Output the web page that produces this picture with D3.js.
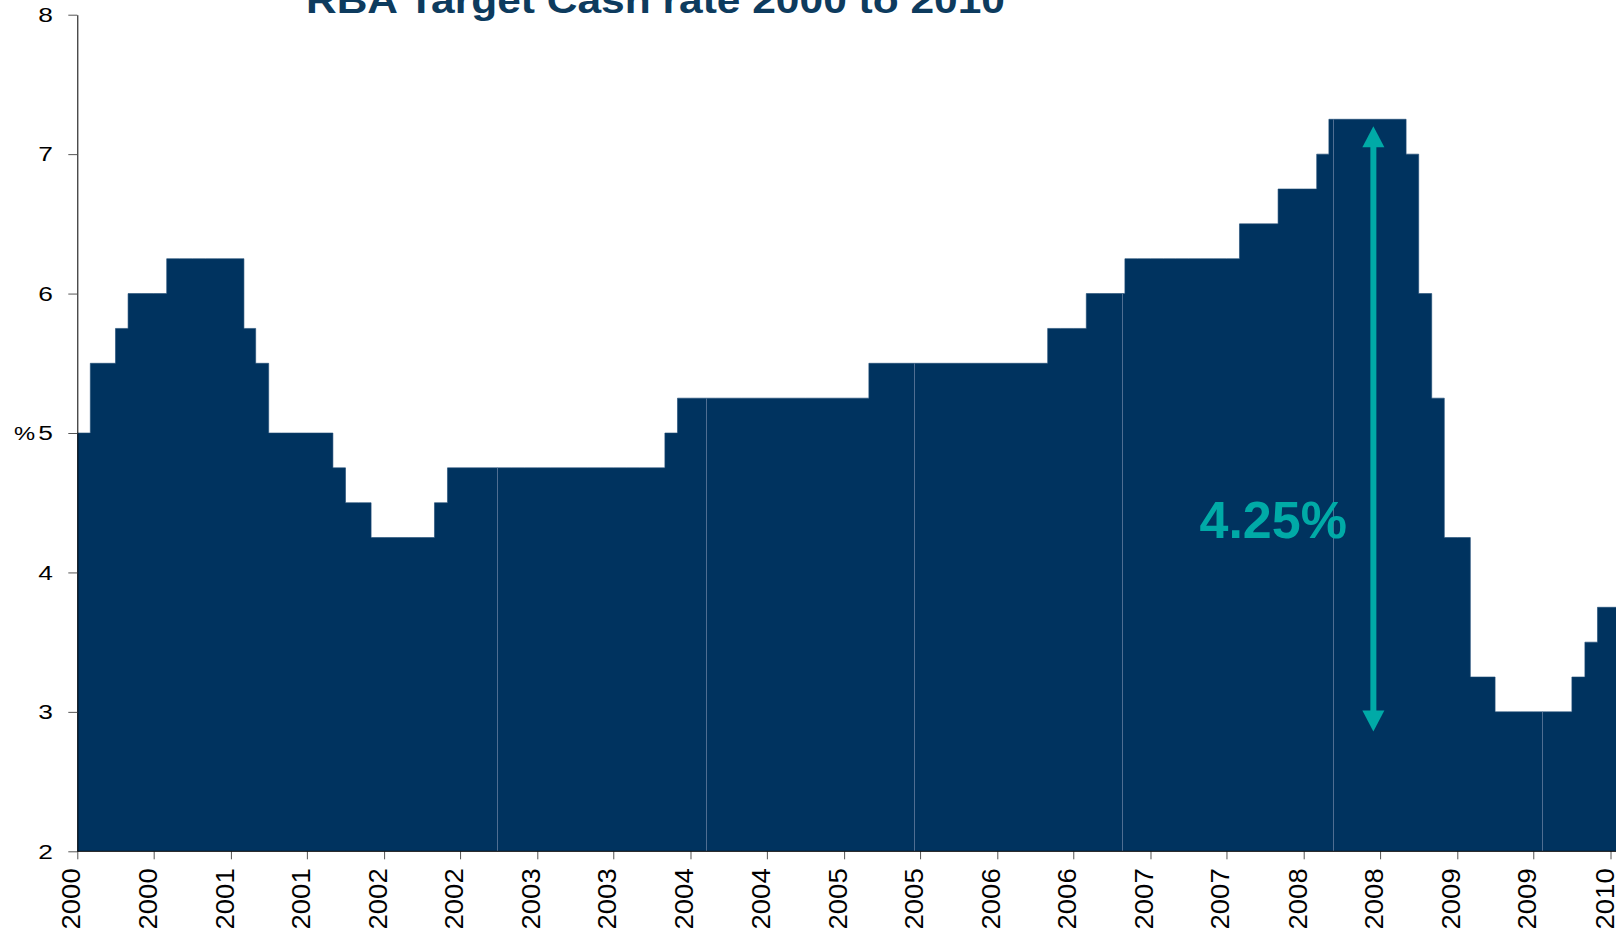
<!DOCTYPE html>
<meta charset="utf-8">
<style>

body {
  margin: 0;
  background: #fff;
}

svg {
  display: block;
}

text {
  font-family: "Liberation Sans", Arial, Helvetica, sans-serif;
}

</style>
<svg></svg>
<script src="https://cdn.jsdelivr.net/npm/d3@7/dist/d3.min.js"></script>
<script>

// monthly RBA target cash rate, starting Jan 2000
var startMonth = "2000-01";
var cashRate = [
  5.00, 5.50, 5.50, 5.75, 6.00, 6.00, 6.00, 6.25, 6.25, 6.25, 6.25, 6.25,  // 2000
  6.25, 5.75, 5.50, 5.00, 5.00, 5.00, 5.00, 5.00, 4.75, 4.50, 4.50, 4.25,  // 2001
  4.25, 4.25, 4.25, 4.25, 4.50, 4.75, 4.75, 4.75, 4.75, 4.75, 4.75, 4.75,  // 2002
  4.75, 4.75, 4.75, 4.75, 4.75, 4.75, 4.75, 4.75, 4.75, 4.75, 5.00, 5.25,  // 2003
  5.25, 5.25, 5.25, 5.25, 5.25, 5.25, 5.25, 5.25, 5.25, 5.25, 5.25, 5.25,  // 2004
  5.25, 5.25, 5.50, 5.50, 5.50, 5.50, 5.50, 5.50, 5.50, 5.50, 5.50, 5.50,  // 2005
  5.50, 5.50, 5.50, 5.50, 5.75, 5.75, 5.75, 6.00, 6.00, 6.00, 6.25, 6.25,  // 2006
  6.25, 6.25, 6.25, 6.25, 6.25, 6.25, 6.25, 6.50, 6.50, 6.50, 6.75, 6.75,  // 2007
  6.75, 7.00, 7.25, 7.25, 7.25, 7.25, 7.25, 7.25, 7.00, 6.00, 5.25, 4.25,  // 2008
  4.25, 3.25, 3.25, 3.00, 3.00, 3.00, 3.00, 3.00, 3.00, 3.25, 3.50, 3.75,  // 2009
  3.75, 3.75, 4.00                                                         // 2010
];

var yTicks = [2, 3, 4, 5, 6, 7, 8];
var xStart = "2000-01-01", xEnd = "2010-01-01";
var chartTitle = "RBA Target Cash rate 2000 to 2010";
var yUnit = "%";

// annotation: fall from peak to trough
var moveLabel = "4.25%";
var arrowDate = "2008-06-15";
var arrowTop = 7.2, arrowBottom = 2.86;
var labelEndDate = "2008-04-13", labelRate = 4.25;

// faint seams visible inside the filled area of the original
var seamDates = ["2002-09-26", "2004-02-07", "2005-06-16", "2006-10-26", "2008-03-12", "2009-07-21"];

var width = 1616,
    height = 931;

var navy = "#00335f",
    teal = "#00aaa7";

var svg = d3.select("svg")
    .attr("width", width)
    .attr("height", height);

var parseMonth = d3.timeParse("%Y-%m"),
    parseDay = d3.timeParse("%Y-%m-%d");

var data = cashRate.map(function(r, i) {
  return { date: d3.timeMonth.offset(parseMonth(startMonth), i), rate: r };
});

var x = d3.scaleTime()
    .domain([parseDay(xStart), parseDay(xEnd)])
    .range([77.3, 1610.5]);

var y = d3.scaleLinear()
    .domain([2, 8])
    .range([851.3, 14.7]);

svg.append("defs").append("clipPath")
    .attr("id", "plot")
  .append("rect")
    .attr("x", x.range()[0])
    .attr("y", 0)
    .attr("width", width - x.range()[0])
    .attr("height", y(2));

var plot = svg.append("g")
    .attr("clip-path", "url(#plot)");

var area = d3.area()
    .curve(d3.curveStepAfter)
    .x(function(d) { return x(d.date); })
    .y0(y(2))
    .y1(function(d) { return y(d.rate); });

plot.append("path")
    .datum(data)
    .attr("fill", navy)
    .attr("stroke", "#1d4a74")
    .attr("stroke-width", 0.6)
    .attr("d", area);

var bisect = d3.bisector(function(d) { return d.date; }).right;

plot.selectAll(".seam")
    .data(seamDates.map(parseDay))
  .enter().append("line")
    .attr("class", "seam")
    .attr("x1", function(d) { return Math.round(x(d)) + 0.5; })
    .attr("x2", function(d) { return Math.round(x(d)) + 0.5; })
    .attr("y1", function(d) { return y(data[bisect(data, d) - 1].rate); })
    .attr("y2", y(2))
    .attr("stroke", "#4f6e92")
    .attr("stroke-width", 1);

// y axis
var yAxis = svg.append("g")
    .attr("class", "axis")
    .attr("transform", "translate(" + x.range()[0] + ",0)")
    .call(d3.axisLeft(y).tickValues(yTicks).tickFormat(d3.format("d")).tickSize(9).tickSizeOuter(0));

yAxis.select(".domain").attr("stroke", "#000");
yAxis.selectAll(".tick line").attr("stroke", "#555");
yAxis.selectAll(".tick text")
    .attr("x", null)
    .attr("dy", "0.35em")
    .attr("fill", "#000")
    .attr("font-size", 19.5)
    .attr("text-anchor", "end")
    .attr("transform", "translate(-24.3,0) scale(1.35,1)");

svg.append("text")
    .attr("transform", "translate(35," + y(5) + ") scale(1.25,1)")
    .attr("dy", "0.35em")
    .attr("text-anchor", "end")
    .attr("font-size", 19)
    .attr("fill", "#000")
    .text(yUnit);

// x axis
var xTickValues = d3.timeMonth.every(6).range(parseDay(xStart), d3.timeDay.offset(parseDay(xEnd), 1));

var xAxis = svg.append("g")
    .attr("class", "axis")
    .attr("transform", "translate(0," + y(2) + ")")
    .call(d3.axisBottom(x).tickValues(xTickValues).tickFormat(d3.timeFormat("%Y")).tickSize(8).tickSizeOuter(0));

xAxis.select(".domain").remove();
xAxis.append("line")
    .attr("x1", x.range()[0])
    .attr("x2", width)
    .attr("stroke", "#000");
xAxis.selectAll(".tick line").attr("stroke", "#555");
xAxis.selectAll(".tick text")
    .attr("x", null)
    .attr("y", null)
    .attr("dy", null)
    .attr("fill", "#000")
    .attr("font-size", 25)
    .attr("text-anchor", "end")
    .attr("transform", "translate(2.5,17) rotate(-90) scale(1.1,1)");

// title
svg.append("text")
    .attr("x", 306)
    .attr("y", 13)
    .attr("font-size", 37)
    .attr("font-weight", "bold")
    .attr("fill", "#0d3b5e")
    .attr("textLength", 699)
    .attr("lengthAdjust", "spacingAndGlyphs")
    .text(chartTitle);

// annotation arrow
var ax = x(parseDay(arrowDate)),
    yTop = y(arrowTop),
    yBot = y(arrowBottom),
    headLen = 21,
    headHalf = 11;

var note = svg.append("g")
    .attr("fill", teal)
    .attr("stroke", "none");

note.append("rect")
    .attr("x", ax - 3)
    .attr("y", yTop + headLen - 1)
    .attr("width", 6)
    .attr("height", yBot - yTop - 2 * headLen + 2);

note.append("path")
    .attr("d", "M" + ax + "," + yTop + "L" + (ax + headHalf) + "," + (yTop + headLen) + "L" + (ax - headHalf) + "," + (yTop + headLen) + "Z");

note.append("path")
    .attr("d", "M" + ax + "," + yBot + "L" + (ax + headHalf) + "," + (yBot - headLen) + "L" + (ax - headHalf) + "," + (yBot - headLen) + "Z");

note.append("text")
    .attr("x", x(parseDay(labelEndDate)))
    .attr("y", y(labelRate))
    .attr("text-anchor", "end")
    .attr("font-size", 52)
    .attr("font-weight", "bold")
    .text(moveLabel);

</script>
